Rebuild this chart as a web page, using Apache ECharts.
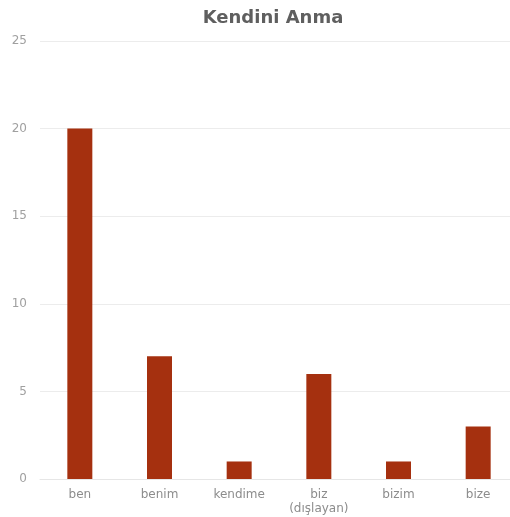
<!DOCTYPE html>
<html>
<head>
<meta charset="utf-8">
<script src="https://cdn.jsdelivr.net/npm/echarts@6/dist/echarts.min.js"></script>
<style>html,body{margin:0;padding:0;background:#fff;overflow:hidden;width:510px;height:517px;}#c{width:518px;height:517px;}</style>
</head>
<body>
<div id="c"></div>
<script>
var titleText = "Kendini Anma";
var categories = ["ben", "benim", "kendime", "biz\n(dışlayan)", "bizim", "bize"];
var values = [20, 7, 1, 6, 1, 3];
var yTicks = [0, 5, 10, 15, 20, 25];

var chart = echarts.init(document.getElementById('c'), null, {renderer: 'canvas'});
chart.setOption({
  backgroundColor: '#ffffff',
  animation: false,
  title: {
    text: titleText,
    left: 268, top: 4, textAlign: 'center',
    textStyle: {fontFamily: 'DejaVu Sans', fontWeight: 'bold', fontSize: 18, color: '#5f5f5f'}
  },
  grid: {left: 40, top: 41, right: 0, bottom: 38, containLabel: false},
  xAxis: {
    type: 'category',
    data: categories,
    axisLine: {show: true, lineStyle: {color: '#e6e6e6', width: 1}},
    axisTick: {show: false},
    axisLabel: {color: '#8c8c8c', fontSize: 12, fontFamily: 'DejaVu Sans', margin: 9, lineHeight: 14, interval: 0}
  },
  yAxis: {
    type: 'value',
    min: yTicks[0], max: yTicks[yTicks.length - 1], interval: 5,
    axisLine: {show: false},
    axisTick: {show: false},
    splitLine: {lineStyle: {color: '#ececec', width: 1}},
    axisLabel: {color: '#a0a0a0', fontSize: 12, fontFamily: 'DejaVu Sans', margin: 13}
  },
  series: [{
    type: 'bar',
    data: values,
    barWidth: 25,
    itemStyle: {color: '#a5300f'}
  }]
});
</script>
</body>
</html>
